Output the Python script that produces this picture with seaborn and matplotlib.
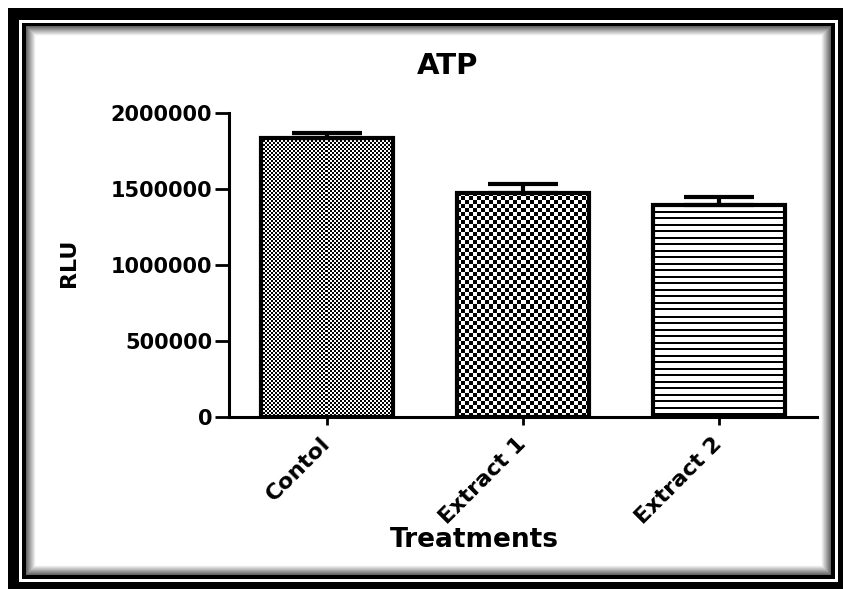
import numpy as np
import matplotlib
matplotlib.use("Agg")
import matplotlib.pyplot as plt
import seaborn as sns
from matplotlib.patches import Rectangle

# data
treatments = ["Contol", "Extract 1", "Extract 2"]
rlu = [1835000, 1475000, 1398000]
sem = [35000, 60000, 50000]
y_ticks = [0, 500000, 1000000, 1500000, 2000000]

W, H = 843, 589
sns.set_style("ticks")
plt.rcParams["font.family"] = ["DejaVu Sans"]
plt.rcParams["font.weight"] = "bold"
for k in ["text.color", "axes.labelcolor", "xtick.color", "ytick.color", "axes.edgecolor"]:
    plt.rcParams[k] = "black"

fig = plt.figure(figsize=(W / 100, H / 100), dpi=100)
fig.patch.set_facecolor("white")


def fx(x):
    return x / W


def fy(y):
    return 1 - y / H


def frame_rect(x0, y0, x1, y1, color, z):
    r = Rectangle((fx(x0), fy(y1)), fx(x1) - fx(x0), fy(y0) - fy(y1),
                  transform=fig.transFigure, facecolor=color,
                  edgecolor="none", zorder=z)
    fig.add_artist(r)


# picture frame: thick black, white line, thin black, soft inner shadow
frame_rect(8, 8, 843, 589, "black", -20)
frame_rect(19, 20, 838, 582, "white", -19)
frame_rect(22, 23, 835, 579, "black", -18)
for i in range(10):
    g = 0.4 + 0.065 * i
    frame_rect(26 + i, 26 + i, 831 - i, 575 - i, str(min(g, 1.0)), -17 + i * 0.1)
frame_rect(36, 36, 821, 565, "white", -15)

ax = fig.add_axes([fx(229), fy(417), (817 - 229) / W, (417 - 113) / H])
ax.set_facecolor("none")

sns.barplot(x=treatments, y=rlu, ax=ax, color="white", edgecolor="black",
            linewidth=3, width=0.67, saturation=1)
ax.set_xlim(-0.5, 2.5)
ax.set_ylim(0, 2000000)

# fill patterns clipped to each bar
fig.canvas.draw()
for i, p in enumerate(ax.patches):
    bb = p.get_window_extent()
    wpx, hpx = int(round(bb.width)), int(round(bb.height))
    r, c = np.indices((hpx, wpx))
    if i == 0:
        img = ((r // 2 + c // 2) % 2).astype(float)
    elif i == 1:
        img = ((r // 4 + c // 4) % 2).astype(float)
    else:
        img = np.where((r % 6.5) < 1.6, 0.0, 1.0)
    x0, x1 = p.get_x(), p.get_x() + p.get_width()
    im = ax.imshow(img, cmap="gray", vmin=0, vmax=1, extent=(x0, x1, 0, p.get_height()),
                   aspect="auto", interpolation="nearest", origin="upper", zorder=0.5)
    im.set_clip_path(p)
    p.set_facecolor("none")
    p.set_zorder(2)

ax.set_xlim(-0.5, 2.5)
ax.set_ylim(0, 2000000)

ax.errorbar(x=range(len(rlu)), y=rlu, yerr=[np.zeros(len(sem)), sem], fmt="none",
            ecolor="black", elinewidth=3, capsize=25, capthick=3, zorder=3)

ax.set_yticks(y_ticks)
ax.set_yticklabels([str(v) for v in y_ticks], fontsize=15, fontweight="bold")
ax.set_xticks(range(len(treatments)))
ax.set_xticklabels(treatments, fontsize=16, fontweight="bold", rotation=45,
                   ha="right", va="center", rotation_mode="anchor")
ax.tick_params(axis="y", length=10, width=2, pad=2, colors="black")
ax.tick_params(axis="x", length=6, width=2, pad=11, colors="black")
ax.set_xlabel("")
ax.set_ylabel("")
for s in ["left", "bottom"]:
    ax.spines[s].set_linewidth(2.2)
    ax.spines[s].set_color("black")
sns.despine(ax=ax)

fig.text(fx(448), fy(66), "ATP", fontsize=21, fontweight="bold", ha="center", va="center")
fig.text(fx(474), fy(540), "Treatments", fontsize=19, fontweight="bold", ha="center", va="center")
fig.text(fx(69), fy(263), "RLU", fontsize=16, fontweight="bold", ha="center", va="center",
         rotation=90)

fig.savefig("out.png", dpi=100)
